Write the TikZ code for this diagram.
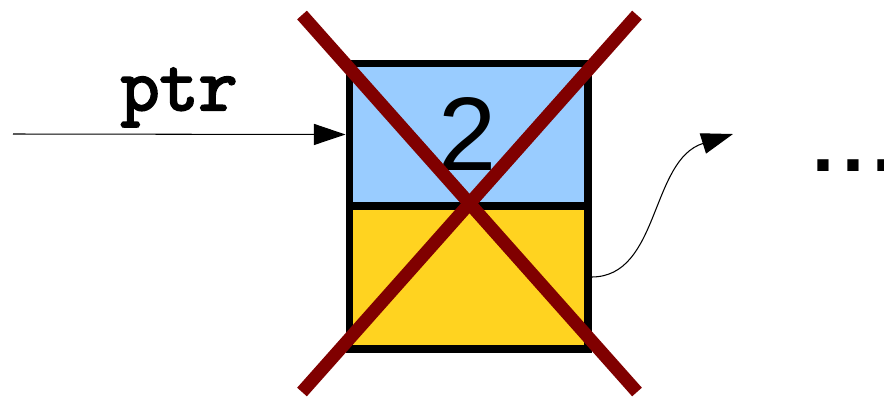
\documentclass[tikz,border=0pt]{standalone}
\usepackage{fontspec}
\setmainfont{Liberation Sans}
\newfontfamily\codefont[FakeBold=3]{Latin Modern Mono}
\newfontfamily\dotsfont[LetterSpace=10]{Liberation Sans}
\usetikzlibrary{arrows.meta}
\definecolor{cellblue}{HTML}{99CCFF}
\definecolor{cellyellow}{HTML}{FFD320}
\definecolor{crossred}{HTML}{800000}

\begin{document}
\begin{tikzpicture}[
    x=0.02cm, y=-0.02cm,
    cell/.style={
        rectangle,
        draw,
        line width=4pt,     % thick black frame
        minimum width=4.78cm,
        minimum height=2.86cm,
        inner sep=0pt
    },
    link/.style={
        draw,
        line width=0.6pt,
        -{Triangle[length=18pt,width=12pt]}
    },
    cross/.style={crossred, line width=7.4pt}
]
    \useasboundingbox (0,0) rectangle (884,400);

    % the list node
    \node[cell, fill=cellblue]   (val) at (468.5,134.5) {};
    \node[cell, fill=cellyellow] (nxt) at (468.5,277.5) {};
    \node[anchor=base, inner sep=0pt, font=\fontsize{59.5}{60}\selectfont] (num) at (468,170) {2};

    % pointer into it
    \coordinate (start) at (13,134);
    \node[anchor=base, inner sep=0pt, font=\codefont\fontsize{43}{45}\selectfont] (ptr) at (179,110) {ptr};
    \draw[link] (start) -- (val.west);

    % next pointer and the rest of the list
    \coordinate (next) at (733,134);
    \node[anchor=base west, inner sep=0pt, font=\dotsfont\bfseries\fontsize{45}{47}\selectfont] (rest) at (812,171) {...};
    \draw[link] (nxt.east |- 0,277) .. controls (660,277) and (650,160) .. (next);

    % crossed out
    \coordinate (tl) at (302,15);
    \coordinate (br) at (637,392);
    \coordinate (tr) at (637,15);
    \coordinate (bl) at (302,392);
    \draw[cross] (tl) -- (br);
    \draw[cross] (tr) -- (bl);
\end{tikzpicture}
\end{document}
